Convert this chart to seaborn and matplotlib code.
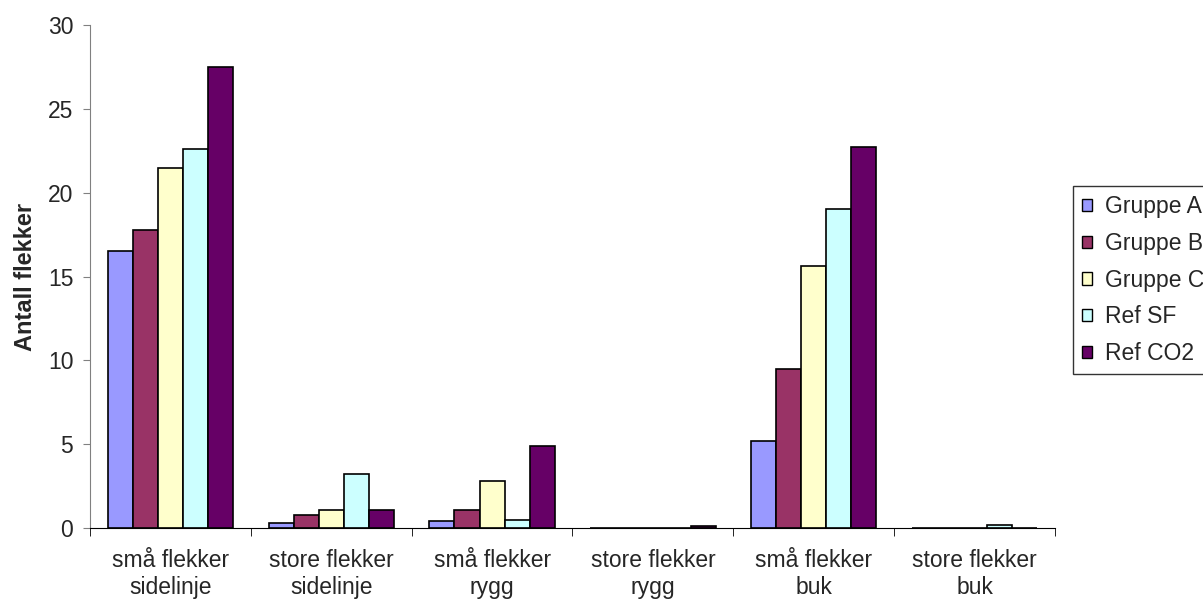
import pandas as pd
import matplotlib.pyplot as plt
import seaborn as sns
from matplotlib.ticker import FixedLocator

categories = ["små flekker\nsidelinje", "store flekker\nsidelinje", "små flekker\nrygg",
              "store flekker\nrygg", "små flekker\nbuk", "store flekker\nbuk"]
gruppe_a = [16.5, 0.3, 0.4, 0.0, 5.2, 0.0]
gruppe_b = [17.8, 0.8, 1.1, 0.0, 9.5, 0.0]
gruppe_c = [21.5, 1.1, 2.8, 0.0, 15.6, 0.0]
ref_sf = [22.6, 3.2, 0.5, 0.0, 19.0, 0.2]
ref_co2 = [27.5, 1.1, 4.9, 0.1, 22.7, 0.0]
series = ["Gruppe A", "Gruppe B", "Gruppe C", "Ref SF", "Ref CO2"]
colors = ["#9999FF", "#993366", "#FFFFCC", "#CCFFFF", "#660066"]

# long format table
rows = []
for name, vals in zip(series, [gruppe_a, gruppe_b, gruppe_c, ref_sf, ref_co2]):
    for cat, v in zip(categories, vals):
        rows.append({"kategori": cat, "serie": name, "verdi": v})
data = pd.DataFrame(rows)

sns.set_style("white")
plt.rcParams["font.family"] = ["Liberation Sans", "DejaVu Sans"]

fig = plt.figure(figsize=(12.03, 6.01), dpi=100)
ax = fig.add_axes([90 / 1203, 1 - 528 / 601, 965 / 1203, 503 / 601])

sns.barplot(data=data, x="kategori", y="verdi", hue="serie", order=categories,
            hue_order=series, palette=colors, width=0.78, gap=0,
            edgecolor="black", linewidth=1.2, saturation=1, ax=ax, legend=False)

ax.set_ylim(0, 30)
ax.set_xlim(-0.5, 5.5)
ax.set_yticks(range(0, 31, 5))
ax.set_xlabel("")
ax.set_ylabel("Antall flekker", fontsize=17, fontweight="bold", labelpad=8)
ax.tick_params(axis="y", labelsize=16.5, length=5, pad=7, direction="out", color="#808080", left=True)
ax.tick_params(axis="x", which="major", labelsize=16.5, length=0, pad=15)
for lbl in ax.get_xticklabels():
    lbl.set_linespacing(1.25)
ax.xaxis.set_minor_locator(FixedLocator([i - 0.5 for i in range(7)]))
ax.tick_params(axis="x", which="minor", length=6, direction="out", color="black", bottom=True)
ax.spines["top"].set_visible(False)
ax.spines["right"].set_visible(False)
ax.spines["left"].set_color("#808080")
ax.spines["bottom"].set_color("black")

handles = [plt.Rectangle((0, 0), 1, 1, facecolor=c, edgecolor="black", linewidth=1) for c in colors]
leg = fig.legend(handles, series, loc="upper left", bbox_to_anchor=(1073 / 1203, 1 - 186 / 601),
                 fontsize=16.5, frameon=True, fancybox=False, edgecolor="black",
                 handlelength=0.45, handleheight=0.45, handletextpad=0.55, labelspacing=0.6,
                 borderpad=0.4, borderaxespad=0)
leg.get_frame().set_linewidth(1)

plt.savefig("out.png", dpi=100)
